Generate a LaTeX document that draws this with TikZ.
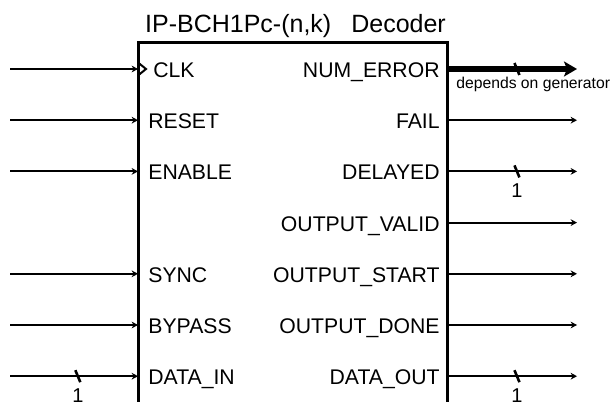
\documentclass[tikz,border=0pt]{standalone}
\usepackage{fontspec}
\setmainfont{Liberation Sans}
\usetikzlibrary{arrows.meta,positioning}
\tikzset{
  signal/.style={line width=1pt,-{Stealth[length=3.2pt,width=3.4pt]}},
  bus/.style={line width=3pt,-{Stealth[length=6.5pt,width=7.5pt,inset=1.5pt]}},
  portin/.style={anchor=base west,inner sep=0pt,font=\fontsize{10.6}{12}\selectfont,xshift=5pt,yshift=-4.25pt},
  portout/.style={anchor=base east,inner sep=0pt,font=\fontsize{10.6}{12}\selectfont,xshift=-3.5pt,yshift=-4.25pt},
  slash/.style={line width=1.3pt},
  bits/.style={inner sep=0pt,font=\fontsize{10}{11}\selectfont}
}

\begin{document}
\begin{tikzpicture}[x=0.5pt,y=0.5pt]
\useasboundingbox (0,0) rectangle (614,401);
\clip (0,0) rectangle (614,401);
\coordinate (box-sw) at (138,-10);
\coordinate (box-nw) at (138,358);
\coordinate (box-ne) at (447,358);
\coordinate (box-se) at (447,-10);
\draw [line width=1.5pt] (box-sw) -- (box-nw) -- (box-ne) -- (box-se);
\node [anchor=base,inner sep=0pt,font=\fontsize{12.5}{14}\selectfont] (title) at (295.5,368) {IP-BCH1Pc-(n,k)\hspace{10pt}Decoder};

\coordinate (clk-in) at (10,332);       \coordinate (clk-pin) at (138,332);
\coordinate (reset-in) at (10,280.8);   \coordinate (reset-pin) at (138,280.8);
\coordinate (enable-in) at (10,229.6);  \coordinate (enable-pin) at (138,229.6);
\coordinate (sync-in) at (10,127.2);    \coordinate (sync-pin) at (138,127.2);
\coordinate (bypass-in) at (10,76);     \coordinate (bypass-pin) at (138,76);
\coordinate (datain-in) at (10,24.8);   \coordinate (datain-pin) at (138,24.8);

\draw [signal] (clk-in) -- (clk-pin);
\draw [signal] (reset-in) -- (reset-pin);
\draw [signal] (enable-in) -- (enable-pin);
\draw [signal] (sync-in) -- (sync-pin);
\draw [signal] (bypass-in) -- (bypass-pin);
\draw [signal] (datain-in) -- (datain-pin) coordinate[pos=0.53] (datain-w);
\draw [line width=1pt] (clk-pin) ++(0,6.5) -- ++(8,-6.5) -- ++(-8,-6.5);
\draw [slash] (datain-w) ++(-2.5,6) -- ++(5,-12);
\node [bits,below=6pt of datain-w] (datain-bits) {1};

\node [portin,xshift=2.5pt] (clk) at (clk-pin) {CLK};
\node [portin] (reset) at (reset-pin) {RESET};
\node [portin] (enable) at (enable-pin) {ENABLE};
\node [portin] (sync) at (sync-pin) {SYNC};
\node [portin] (bypass) at (bypass-pin) {BYPASS};
\node [portin] (datain) at (datain-pin) {DATA\_IN};

\coordinate (numerror-pin) at (447,332);   \coordinate (numerror-out) at (577,332);
\coordinate (fail-pin) at (447,280.8);     \coordinate (fail-out) at (577,280.8);
\coordinate (delayed-pin) at (447,229.6);  \coordinate (delayed-out) at (577,229.6);
\coordinate (outvalid-pin) at (447,178.4); \coordinate (outvalid-out) at (577,178.4);
\coordinate (outstart-pin) at (447,127.2); \coordinate (outstart-out) at (577,127.2);
\coordinate (outdone-pin) at (447,76);     \coordinate (outdone-out) at (577,76);
\coordinate (dataout-pin) at (447,24.8);   \coordinate (dataout-out) at (577,24.8);

\draw [bus] (numerror-pin) -- (numerror-out) coordinate[pos=0.538] (numerror-w);
\draw [signal] (fail-pin) -- (fail-out);
\draw [signal] (delayed-pin) -- (delayed-out) coordinate[pos=0.538] (delayed-w);
\draw [signal] (outvalid-pin) -- (outvalid-out);
\draw [signal] (outstart-pin) -- (outstart-out);
\draw [signal] (outdone-pin) -- (outdone-out);
\draw [signal] (dataout-pin) -- (dataout-out) coordinate[pos=0.538] (dataout-w);
\draw [slash] (numerror-w) ++(-2.5,6) -- ++(5,-12);
\draw [slash] (delayed-w) ++(-2.5,6) -- ++(5,-12);
\draw [slash] (dataout-w) ++(-2.5,6) -- ++(5,-12);
\node [anchor=base west,inner sep=0pt,font=\fontsize{7.85}{9}\selectfont] (numerror-note) at (456,312) {depends on generator};
\node [bits,below=6pt of delayed-w] (delayed-bits) {1};
\node [bits,below=6pt of dataout-w] (dataout-bits) {1};

\node [portout] (numerror) at (numerror-pin) {NUM\_ERROR};
\node [portout] (fail) at (fail-pin) {FAIL};
\node [portout] (delayed) at (delayed-pin) {DELAYED};
\node [portout] (outvalid) at (outvalid-pin) {OUTPUT\_VALID};
\node [portout] (outstart) at (outstart-pin) {OUTPUT\_START};
\node [portout] (outdone) at (outdone-pin) {OUTPUT\_DONE};
\node [portout] (dataout) at (dataout-pin) {DATA\_OUT};
\end{tikzpicture}
\end{document}
